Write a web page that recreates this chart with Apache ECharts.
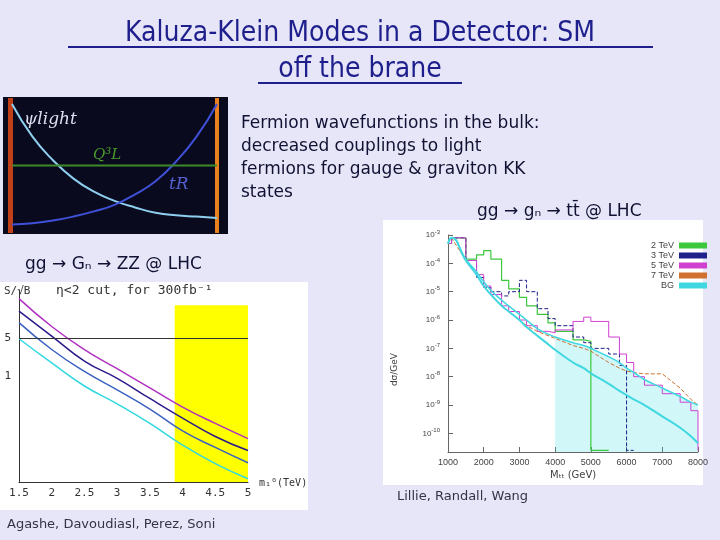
<!DOCTYPE html>
<html><head><meta charset="utf-8">
<script src="https://cdn.jsdelivr.net/npm/echarts@6/dist/echarts.min.js"></script>
<style>html,body{margin:0;padding:0;background:#E6E6F8}#c{width:720px;height:540px}</style>
</head><body><div id="c"></div>
<script>
// Top-left: wavefunctions (0..1 units)
const wfX = [0, 0.1, 0.2, 0.3, 0.4, 0.5, 0.6, 0.7, 0.8, 0.9, 1];
const psiLight = [0.97, 0.72, 0.54, 0.4, 0.3, 0.23, 0.18, 0.14, 0.12, 0.11, 0.1];
const tR = [0.05, 0.06, 0.08, 0.11, 0.15, 0.2, 0.28, 0.38, 0.53, 0.72, 0.97];
const qL = 0.5;
// Bottom-left: S/sqrt(B) vs m1G
const mG = [1.5, 2, 2.5, 3, 3.5, 4, 4.5, 5];
const sMagenta = [9.55, 8.1, 6.9, 5.9, 4.9, 3.9, 3.05, 2.26];
const sNavy = [8.9, 7.6, 6.3, 5.4, 4.35, 3.33, 2.37, 1.64];
const sBlue = [8.3, 6.9, 5.76, 4.8, 3.8, 2.66, 1.8, 1.0];
const sCyan = [7.46, 6.2, 5.0, 4.07, 3.05, 1.92, 0.96, 0.17];
const sLabels = {"7.5": "5", "5.5": "1"};
// Right: dsigma/dM (log10 values)
const mass = [1000,1100,1500,1800,2000,2200,2500,2700,3000,3200,3500,3800,4000,4500,4800,5000,5500,5800,6000,6200,6500,7000,7500,7800,8000];
const bgLog =   [-3.3,-3.1,-3.9,-4.4,-4.8,-5.1,-5.5,-5.7,-6.0,-6.25,-6.55,-6.85,-7.05,-7.5,-7.7,-7.88,-8.25,-8.5,-8.65,-8.8,-9.0,-9.4,-9.8,-10.1,-10.35];
const bgUpLog = [-3.3,-3.1,-3.85,-4.3,-4.65,-4.95,-5.3,-5.5,-5.8,-6.0,-6.3,-6.5,-6.6,-6.8,-6.9,-7.0,-7.3,-7.5,-7.7,-7.85,-8.1,-8.4,-8.7,-8.9,-9.0];
const g2Log = [-3.3,-3.1,-3.85,-3.7,-3.55,-3.85,-4.6,-4.9,-5.2,-5.5,-5.8,-6.1,-6.4,-6.7,-6.75,-10.6,null,null,null,null,null,null,null,null,null];
const g3Log = [-3.3,-3.1,-3.9,-4.5,-4.85,-5.0,-5.15,-5.0,-4.6,-5.0,-5.6,-5.95,-6.2,-6.6,-6.8,-7.0,-7.2,-7.6,-10.6,null,null,null,null,null,null];
const g5Log = [-3.3,-3.1,-3.9,-4.4,-4.8,-5.1,-5.5,-5.7,-6.0,-6.2,-6.4,-6.45,-6.35,-6.05,-5.9,-6.05,-6.6,-7.2,-7.5,-8.0,-8.3,-8.6,-8.9,-9.2,-10.6];
const g7Log = [-3.3,-3.1,-3.9,-4.4,-4.8,-5.1,-5.5,-5.7,-6.0,-6.2,-6.4,-6.55,-6.65,-6.9,-7.0,-7.1,-7.5,-7.7,-7.8,-7.85,-7.9,-7.9,-8.4,-8.8,-9.0];
const legendNames = ['2 TeV','3 TeV','5 TeV','7 TeV','BG'];

const toPairs = (xs, ys) => xs.map((x,i)=>[x, ys[i]]);
const toLog = (xs, ls) => xs.map((x,i)=> ls[i]===null ? [x, null] : [x, Math.pow(10, ls[i])]);
const bandData = mass.map((m,i)=> m>=4000 ? [m, Math.pow(10,bgUpLog[i])] : [m, null]);

const ch = echarts.init(document.getElementById('c'));
ch.setOption({
  backgroundColor:'#E6E6F8',
  animation:false,
  graphic:[
    {type:'text',left:'center',top:16,style:{text:'Kaluza-Klein Modes in a Detector: SM\noff the brane',fill:'#1E1E8C',font:'28px "DejaVu Sans Condensed", "DejaVu Sans"',textAlign:'center',lineHeight:36}},
    {type:'line',shape:{x1:68,y1:47,x2:653,y2:47},style:{stroke:'#1E1E8C',lineWidth:2}},
    {type:'line',shape:{x1:258,y1:83,x2:462,y2:83},style:{stroke:'#1E1E8C',lineWidth:2}},
    {type:'rect',shape:{x:3,y:97,width:225,height:137},style:{fill:'#0A0A1E'},z:-1},
    {type:'rect',shape:{x:0,y:282,width:308,height:228},style:{fill:'#FFFFFF'},z:-1},
    {type:'rect',shape:{x:383,y:220,width:320,height:265},style:{fill:'#FFFFFF'},z:-1},
    {type:'rect',shape:{x:8,y:98,width:5,height:135},style:{fill:'#C0401A'}},
    {type:'rect',shape:{x:215,y:98,width:4,height:135},style:{fill:'#E88020'}},
    {type:'text',left:24,top:111,style:{text:'ψlight',fill:'#DDDDEE',font:'italic 17px "DejaVu Serif"'}},
    {type:'text',left:93,top:148,style:{text:'Q³L',fill:'#4A9A2A',font:'italic 15px "DejaVu Serif"'}},
    {type:'text',left:169,top:176,style:{text:'tR',fill:'#5560D0',font:'italic 17px "DejaVu Serif"'}},
    {type:'text',left:241,top:112,style:{text:'Fermion wavefunctions in the bulk:\ndecreased couplings to light\nfermions for gauge & graviton KK\nstates',fill:'#111133',font:'17px "DejaVu Sans"',lineHeight:23}},
    {type:'text',left:477,top:203,style:{text:'gg → gₙ → tt̄ @ LHC',fill:'#111133',font:'17px "DejaVu Sans"'}},
    {type:'text',left:25,top:256,style:{text:'gg → Gₙ → ZZ @ LHC',fill:'#111133',font:'17px "DejaVu Sans"'}},
    {type:'text',left:397,top:490,style:{text:'Lillie, Randall, Wang',fill:'#333344',font:'13px "DejaVu Sans"'}},
    {type:'text',left:7,top:518,style:{text:'Agashe, Davoudiasl, Perez, Soni',fill:'#333344',font:'13px "DejaVu Sans"'}},
    {type:'text',left:4,top:286,style:{text:'S/√B',fill:'#333',font:'11px "DejaVu Sans Mono"'}},
    {type:'text',left:56,top:284,style:{text:'η<2 cut, for 300fb⁻¹',fill:'#333',font:'13px "DejaVu Sans Mono"'}},
    {type:'text',left:259,top:478,style:{text:'m₁ᴳ(TeV)',fill:'#333',font:'10px "DejaVu Sans Mono"'}},
    {type:'text',left:390,top:353,rotation:Math.PI/2,style:{text:'dσ/GeV',fill:'#444',font:'9px "DejaVu Sans"'}},
    {type:'text',left:550,top:470,style:{text:'Mₜₜ (GeV)',fill:'#444',font:'10px "DejaVu Sans"'}}
  ],
  legend:{data:legendNames,orient:'vertical',right:8,top:236,itemGap:1,itemWidth:28,itemHeight:6,align:'right',textStyle:{fontSize:9,color:'#444'},icon:'rect'},
  grid:[
    {left:12,top:100,width:205,height:131},
    {left:19,top:290,width:229,height:192},
    {left:448,top:235,width:250,height:217}
  ],
  xAxis:[
    {gridIndex:0,type:'value',min:0,max:1,show:false},
    {gridIndex:1,type:'value',min:1.5,max:5,interval:0.5,axisLine:{lineStyle:{color:'#333'}},axisTick:{show:false},splitLine:{show:false},axisLabel:{color:'#333',fontSize:11,fontFamily:'DejaVu Sans Mono',margin:6}},
    {gridIndex:2,type:'value',min:1000,max:8000,interval:1000,axisLine:{lineStyle:{color:'#666'}},axisTick:{inside:true},splitLine:{show:false},axisLabel:{color:'#444',fontSize:9,margin:6,formatter:v=>String(v)}}
  ],
  yAxis:[
    {gridIndex:0,type:'value',min:0,max:1,show:false},
    {gridIndex:1,type:'value',min:0,max:10,interval:0.5,axisLine:{show:true,lineStyle:{color:'#333'}},axisTick:{show:false},splitLine:{show:false},axisLabel:{color:'#333',fontSize:11,fontFamily:'DejaVu Sans Mono',formatter:v=>sLabels[String(v)]||''}},
    {gridIndex:2,type:'log',min:2.2e-11,max:1e-3,axisLine:{show:true,lineStyle:{color:'#666'}},axisTick:{inside:true},splitLine:{show:false},
      axisLabel:{color:'#444',fontSize:8,formatter:v=>{const e=Math.round(Math.log10(v));return (e>=-10&&e<=-3)?'10{s|'+e+'}':'';},rich:{s:{fontSize:6,verticalAlign:'top',padding:[0,0,6,0]}}}}
  ],
  series:[
    {type:'line',xAxisIndex:0,yAxisIndex:0,data:toPairs(wfX,psiLight),smooth:true,symbol:'none',lineStyle:{color:'#8ECFF0',width:2}},
    {type:'line',xAxisIndex:0,yAxisIndex:0,data:toPairs(wfX,tR),smooth:true,symbol:'none',lineStyle:{color:'#3F50D8',width:2}},
    {type:'line',xAxisIndex:0,yAxisIndex:0,data:[[0,qL],[1,qL]],symbol:'none',lineStyle:{color:'#3C8A28',width:2}},
    {type:'line',xAxisIndex:1,yAxisIndex:1,data:toPairs(mG,sMagenta),smooth:true,symbol:'none',lineStyle:{color:'#B030C0',width:1.5},
      markLine:{silent:true,symbol:'none',label:{show:false},lineStyle:{color:'#333',type:'solid',width:1},data:[{yAxis:7.5}]},
      markArea:{silent:true,itemStyle:{color:'#FFFF00',borderRadius:8},data:[[{xAxis:3.88,yAxis:0},{xAxis:5,yAxis:9.2}]]}},
    {type:'line',xAxisIndex:1,yAxisIndex:1,data:toPairs(mG,sNavy),smooth:true,symbol:'none',lineStyle:{color:'#2A1A8A',width:1.5},z:3},
    {type:'line',xAxisIndex:1,yAxisIndex:1,data:toPairs(mG,sBlue),smooth:true,symbol:'none',lineStyle:{color:'#3A60C0',width:1.5},z:3},
    {type:'line',xAxisIndex:1,yAxisIndex:1,data:toPairs(mG,sCyan),smooth:true,symbol:'none',lineStyle:{color:'#30D8E0',width:1.5},z:3},
    {type:'line',xAxisIndex:2,yAxisIndex:2,data:bandData,smooth:true,symbol:'none',lineStyle:{width:0},areaStyle:{color:'rgba(64,224,230,0.35)',origin:'start'},silent:true},
    {name:'2 TeV',type:'line',xAxisIndex:2,yAxisIndex:2,data:toLog(mass,g2Log),step:'end',symbol:'none',lineStyle:{color:'#3CC83C',width:1.2},itemStyle:{color:'#3CC83C'}},
    {name:'3 TeV',type:'line',xAxisIndex:2,yAxisIndex:2,data:toLog(mass,g3Log),step:'end',symbol:'none',lineStyle:{color:'#20208A',width:1,type:'dashed'},itemStyle:{color:'#20208A'}},
    {name:'5 TeV',type:'line',xAxisIndex:2,yAxisIndex:2,data:toLog(mass,g5Log),step:'end',symbol:'none',lineStyle:{color:'#D040D0',width:1},itemStyle:{color:'#D040D0'}},
    {name:'7 TeV',type:'line',xAxisIndex:2,yAxisIndex:2,data:toLog(mass,g7Log),symbol:'none',lineStyle:{color:'#D07030',width:1,type:'dashed'},itemStyle:{color:'#D07030'}},
    {name:'BG',type:'line',xAxisIndex:2,yAxisIndex:2,data:toLog(mass,bgLog),smooth:true,symbol:'none',lineStyle:{color:'#40D8E0',width:2},itemStyle:{color:'#40D8E0'}},
    {type:'line',xAxisIndex:2,yAxisIndex:2,data:toLog(mass,bgUpLog),smooth:true,symbol:'none',lineStyle:{color:'#40D8E0',width:1.5}}
  ]
});
</script></body></html>
